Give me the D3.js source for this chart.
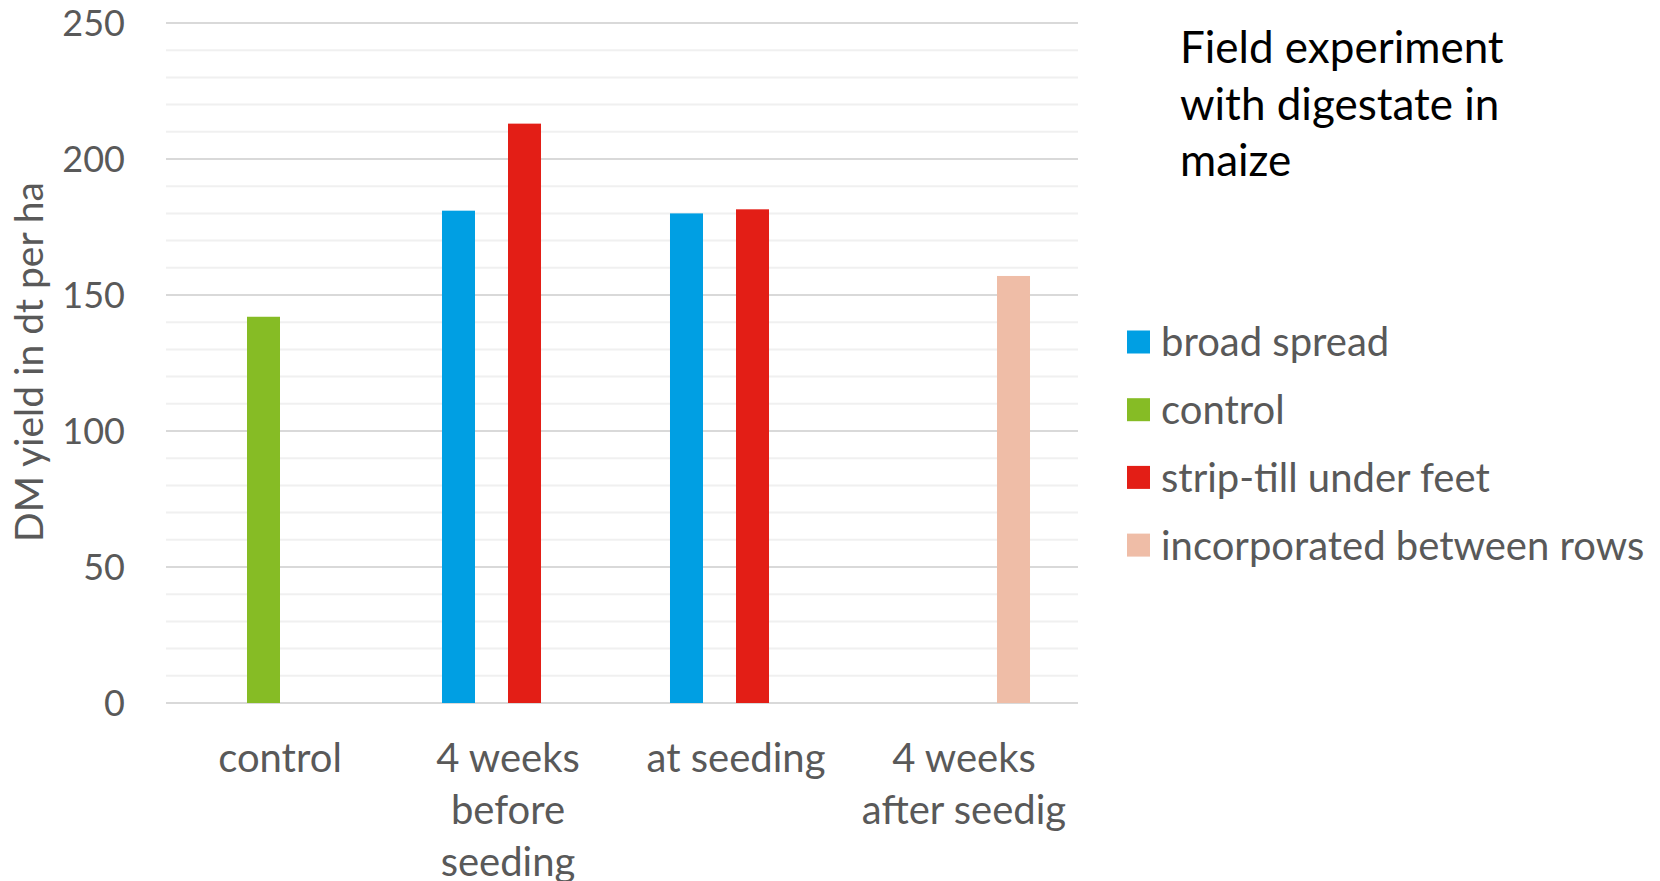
<!DOCTYPE html>
<html>
<head>
<meta charset="utf-8">
<script src="https://cdn.jsdelivr.net/npm/d3@7"></script>
<style>
  body { margin: 0; background: #fff; }
  svg text { font-family: Lato, "Open Sans", sans-serif; }
  .tickText { fill: #595959; font-size: 36px; }
  .catText { fill: #595959; font-size: 40px; }
  .legendText { fill: #595959; font-size: 40px; }
  .axisTitle { fill: #595959; font-size: 39px; }
  .titleText { fill: #000; font-size: 44px; }
</style>
</head>
<body>
<div id="chart"></div>
<script>
// categories and their wrapped labels
const categories = ["control", "4 weeks before seeding", "at seeding", "4 weeks after seedig"];
const categoryLines = [["control"], ["4 weeks", "before", "seeding"], ["at seeding"], ["4 weeks", "after seedig"]];

// series
const seriesNames = ["broad spread", "control", "strip-till under feet", "incorporated between rows"];
const seriesColors = ["#009fe3", "#86bc25", "#e31e16", "#efbda7"];
const broadSpread = [null, 181, 180, null];
const controlValues = [142, null, null, null];
const stripTill = [null, 213, 181.5, null];
const incorporated = [null, null, null, 157];

const yTicks = [0, 50, 100, 150, 200, 250];
const yMinorTicks = d3.range(0, 251, 10);
const titleLines = ["Field experiment", "with digestate in", "maize"];
const yTitle = "DM yield in dt per ha";

const width = 1660, height = 881;
const seriesValues = [broadSpread, controlValues, stripTill, incorporated];

var svg = d3.select("#chart").append("svg")
	.attr("width", width)
	.attr("height", height);

var x0 = d3.scaleBand()
	.domain(categories)
	.range([166, 1078])
	.paddingInner(0.421)
	.paddingOuter(0.2105);

var x1 = d3.scaleBand()
	.domain(seriesNames)
	.range([0, x0.bandwidth()]);

var y = d3.scaleLinear()
	.domain([0, 250])
	.range([703, 23]);

// gridlines
svg.append("g").selectAll("line")
	.data(yMinorTicks.filter(d => d % 50 !== 0))
	.enter().append("line")
	.attr("x1", 166).attr("x2", 1078)
	.attr("y1", d => y(d)).attr("y2", d => y(d))
	.attr("stroke", "#f0f0f0")
	.attr("stroke-width", 2);

svg.append("g").selectAll("line")
	.data(yTicks)
	.enter().append("line")
	.attr("x1", 166).attr("x2", 1078)
	.attr("y1", d => y(d)).attr("y2", d => y(d))
	.attr("stroke", "#d9d9d9")
	.attr("stroke-width", 2);

// y tick labels
svg.append("g").selectAll("text")
	.data(yTicks)
	.enter().append("text")
	.attr("class", "tickText")
	.attr("x", 125)
	.attr("y", d => y(d))
	.attr("dy", "0.36em")
	.attr("text-anchor", "end")
	.text(d => d);

// bars
seriesNames.forEach(function (name, si) {
	svg.append("g").selectAll("rect")
		.data(categories.map((c, i) => ({ cat: c, v: seriesValues[si][i] })).filter(d => d.v != null))
		.enter().append("rect")
		.attr("x", d => x0(d.cat) + x1(name))
		.attr("width", x1.bandwidth())
		.attr("y", d => y(d.v))
		.attr("height", d => y(0) - y(d.v))
		.attr("fill", seriesColors[si]);
});

// category labels
categories.forEach(function (c, i) {
	var t = svg.append("text")
		.attr("class", "catText")
		.attr("text-anchor", "middle")
		.attr("x", x0(c) + x0.bandwidth() / 2)
		.attr("y", 772);
	categoryLines[i].forEach(function (line, li) {
		t.append("tspan")
			.attr("x", x0(c) + x0.bandwidth() / 2)
			.attr("y", 772 + li * 52)
			.text(line);
	});
});

// y axis title
svg.append("text")
	.attr("class", "axisTitle")
	.attr("text-anchor", "middle")
	.attr("transform", "translate(43,362) rotate(-90)")
	.text(yTitle);

// chart title
titleLines.forEach(function (line, i) {
	svg.append("text")
		.attr("class", "titleText")
		.attr("x", 1180)
		.attr("y", 63 + i * 56.5)
		.text(line);
});

// legend
var legend = svg.append("g").selectAll("g")
	.data(seriesNames)
	.enter().append("g")
	.attr("transform", (d, i) => "translate(1127," + (342 + i * 67.7) + ")");

legend.append("rect")
	.attr("x", 0).attr("y", -11.5)
	.attr("width", 23).attr("height", 23)
	.attr("fill", (d, i) => seriesColors[i]);

legend.append("text")
	.attr("class", "legendText")
	.attr("x", 34)
	.attr("dy", "0.36em")
	.text(d => d);
</script>
</body>
</html>
